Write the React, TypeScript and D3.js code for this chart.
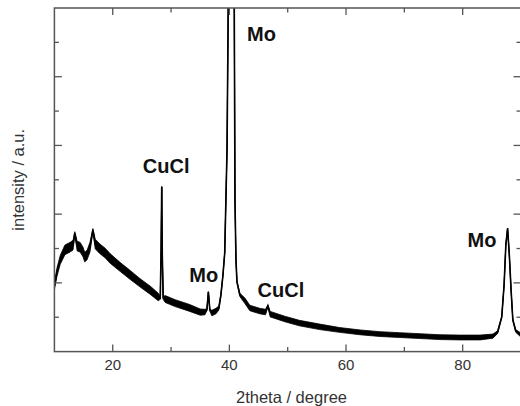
import React from 'react';
import * as d3 from 'd3';

// XRD pattern: 2theta (deg), intensity (a.u.), noise half-band
const twoTheta = [
  10.0, 10.45, 11.0, 11.8, 12.7, 13.2, 13.5, 13.9, 14.4, 14.9, 15.2, 15.6, 16.1, 16.6, 17.0,
  17.8, 18.7, 19.5, 21.3, 23.0, 24.7, 26.4, 27.8, 28.15, 28.3, 28.4, 28.5, 28.65, 29.0, 30.7,
  33.2, 35.0, 35.8, 36.15, 36.4, 36.65, 37.0, 37.7, 38.2, 38.55, 38.9, 39.2, 39.6, 39.8, 40.3,
  40.84, 40.96, 41.13, 41.3, 41.8, 42.7, 43.5, 45.2, 46.2, 46.6, 47.0, 49.5, 52.0, 55.5, 58.9,
  62.4, 65.8, 69.2, 72.7, 76.1, 79.5, 83.0, 85.2, 86.0, 86.7, 87.1, 87.4, 87.7, 88.0, 88.3,
  88.6, 89.1, 90.0,
];
const intensity = [
  1.91, 2.32, 2.67, 2.96, 3.04, 3.1, 3.45, 3.07, 3.04, 2.9, 2.75, 2.81, 3.04, 3.54, 3.13,
  2.99, 2.87, 2.72, 2.46, 2.23, 2.0, 1.79, 1.59, 1.56, 3.0, 4.8, 2.8, 1.56, 1.53, 1.41,
  1.27, 1.15, 1.15, 1.22, 1.74, 1.21, 1.12, 1.18, 1.27, 1.65, 2.23, 2.87, 5.9, 10, 60,
  10, 4.41, 2.67, 2.03, 1.65, 1.47, 1.27, 1.18, 1.15, 1.33, 1.09, 0.95, 0.83, 0.72, 0.63,
  0.56, 0.51, 0.48, 0.45, 0.42, 0.41, 0.41, 0.45, 0.57, 1.01, 1.94, 3.1, 3.59, 2.81, 1.79,
  0.92, 0.6, 0.48,
];
const spread = [
  0.11, 0.12, 0.13, 0.14, 0.14, 0.14, 0.04, 0.14, 0.14, 0.14, 0.14, 0.14, 0.14, 0.04, 0.14,
  0.14, 0.14, 0.14, 0.13, 0.13, 0.12, 0.12, 0.11, 0.04, 0, 0, 0, 0.04, 0.1, 0.1,
  0.1, 0.09, 0.08, 0.03, 0, 0.03, 0.08, 0.08, 0.06, 0.03, 0.02, 0, 0, 0, 0,
  0, 0, 0, 0.02, 0.05, 0.08, 0.08, 0.08, 0.08, 0.03, 0.08, 0.08, 0.08, 0.08, 0.07,
  0.07, 0.07, 0.07, 0.07, 0.07, 0.07, 0.07, 0.06, 0.04, 0.02, 0, 0, 0, 0, 0,
  0.02, 0.04, 0.06,
];

const xMajor = [20, 40, 60, 80];
const xMinor = [30, 50, 70];
const yTicks = [1, 2, 3, 4, 5, 6, 7, 8, 9];

const W = 520;
const H = 406;
const left = 54.4;
const right = 521;
const top = 8;
const bottom = 351.6;

export default function App() {
  const x = d3.scaleLinear().domain([10, 90]).range([left, right]);
  const y = d3.scaleLinear().domain([0, 10]).range([bottom, top]);

  const pts = twoTheta.map((t, i) => ({ t, v: intensity[i], s: spread[i] }));

  const band = d3
    .area<any>()
    .x(d => x(d.t))
    .y0(d => y(d.v - d.s))
    .y1(d => y(d.v + d.s));
  const line = d3
    .line<any>()
    .x(d => x(d.t))
    .y(d => y(d.v));

  const frame = '#555';
  const font = '"Liberation Sans", Arial, sans-serif';

  return (
    <svg
      width={W}
      height={H}
      style={{ position: 'absolute', left: 0, top: 0, background: '#fff' }}
      fontFamily={font}
    >
      <defs>
        <clipPath id="plot">
          <rect x={left} y={top} width={right - left} height={bottom - top} />
        </clipPath>
      </defs>

      <g clipPath="url(#plot)">
        <path d={band(pts) || ''} fill="#000" stroke="#000" strokeWidth={0.8} strokeLinejoin="bevel" />
        <path d={line(pts) || ''} fill="none" stroke="#000" strokeWidth={1.6} />
      </g>

      {/* frame */}
      <rect
        x={left}
        y={top}
        width={right - left}
        height={bottom - top}
        fill="none"
        stroke={frame}
        strokeWidth={1.5}
      />

      {/* x ticks, bottom and top, inward */}
      {xMajor.map(t => (
        <g key={'xM' + t}>
          <line x1={x(t)} x2={x(t)} y1={bottom} y2={bottom - 7} stroke={frame} strokeWidth={1.3} />
          <line x1={x(t)} x2={x(t)} y1={top} y2={top + 7} stroke={frame} strokeWidth={1.3} />
          <text x={x(t)} y={370} textAnchor="middle" fontSize={15} fill="#333">
            {t}
          </text>
        </g>
      ))}
      {xMinor.map(t => (
        <g key={'xm' + t}>
          <line x1={x(t)} x2={x(t)} y1={bottom} y2={bottom - 4.5} stroke={frame} strokeWidth={1.3} />
          <line x1={x(t)} x2={x(t)} y1={top} y2={top + 4.5} stroke={frame} strokeWidth={1.3} />
        </g>
      ))}

      {/* y ticks, left and right, inward */}
      {yTicks.map(v => {
        const len = v % 2 === 0 ? 7.5 : 4.5;
        return (
          <g key={'y' + v}>
            <line x1={left} x2={left + len} y1={y(v)} y2={y(v)} stroke={frame} strokeWidth={1.3} />
            <line x1={right} x2={right - len} y1={y(v)} y2={y(v)} stroke={frame} strokeWidth={1.3} />
          </g>
        );
      })}

      {/* peak labels */}
      <g fontWeight="bold" fontSize={20} fill="#111" textAnchor="middle">
        <text x={x(29.17)} y={y(5.19)}>CuCl</text>
        <text x={x(35.6)} y={y(2.03)}>Mo</text>
        <text x={x(45.5)} y={y(9.05)}>Mo</text>
        <text x={x(48.83)} y={y(1.6)}>CuCl</text>
        <text x={x(83.3)} y={y(3.05)}>Mo</text>
      </g>

      {/* axis titles */}
      <text x={291.5} y={403} textAnchor="middle" fontSize={16.5} fill="#333">
        2theta / degree
      </text>
      <text
        transform={`translate(23.5, ${(top + bottom) / 2}) rotate(-90)`}
        textAnchor="middle"
        fontSize={16.5}
        fill="#333"
      >
        intensity / a.u.
      </text>
    </svg>
  );
}
